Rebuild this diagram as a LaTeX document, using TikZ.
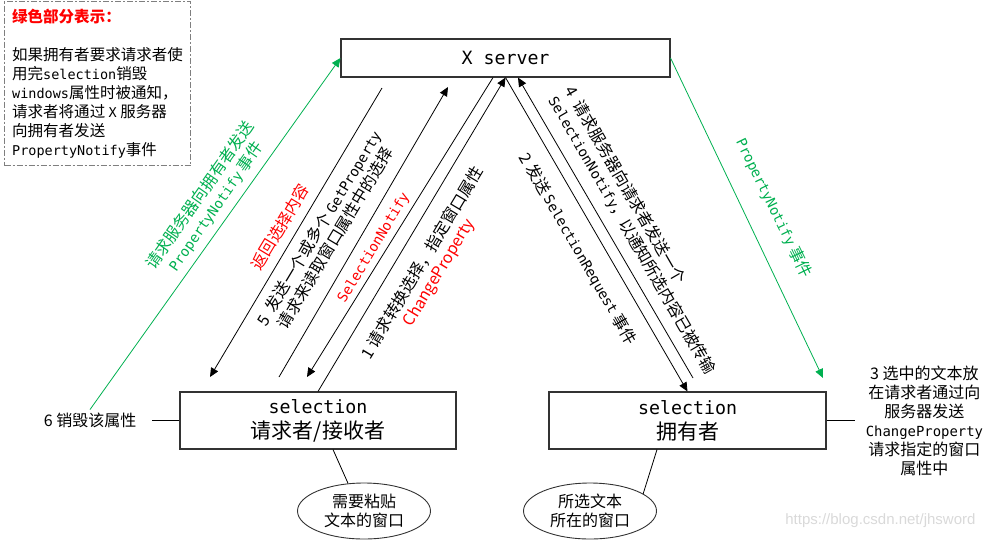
\documentclass[tikz,border=0pt]{standalone}
\usepackage{fontspec}
\setmainfont{Noto Sans CJK SC}
\newfontfamily\asciifont{DejaVu Sans Mono}[Scale=0.87]
\newfontfamily\markfont{Liberation Sans}
\usepackage{xcolor}
\definecolor{evgreen}{HTML}{00B050}
\definecolor{evred}{HTML}{FF0000}
\definecolor{notegray}{HTML}{7F7F7F}
\usepackage{tikz}
\usetikzlibrary{positioning, arrows.meta, shapes.geometric}
\newcommand{\lat}[1]{{\asciifont #1}}
\newcommand{\boxfs}{\fontsize{21pt}{25pt}\selectfont}
\newcommand{\lblfs}{\fontsize{16pt}{19pt}\selectfont}
\newcommand{\notefs}{\fontsize{15.5pt}{19pt}\selectfont}

\begin{document}
\begin{tikzpicture}[x=1pt, y=-1pt,
    box/.style={draw=black!80, line width=1.1pt, minimum height=57pt,
                font=\boxfs, align=center},
    win/.style={draw=black!80, ellipse, line width=0.9pt, minimum width=133pt,
                minimum height=56pt, inner sep=0pt, font=\lblfs, align=center},
    msg/.style={line width=0.8pt, -{Triangle[length=9pt,width=8pt]}},
    evt/.style={msg, evgreen},
    lbl/.style={font=\lblfs, align=center}]
  \useasboundingbox (0,0) rectangle (987,539);

  % note in the corner
  \node[draw=notegray, line width=1pt, dash pattern=on 6pt off 2pt on 2pt off 2pt,
        anchor=north west, minimum width=186pt, minimum height=164pt,
        align=left, inner sep=5pt, font=\notefs] (note) at (4,1)
        {{\color{evred}\bfseries 绿色部分表示：}\\[19pt]
         如果拥有者要求请求者使\\
         用完\lat{selection}销毁\\
         \lat{windows}属性时被通知，\\
         请求者将通过 \lat{X} 服务器\\
         向拥有者发送\\
         \lat{PropertyNotify}事件};

  % server and the two clients
  \node[box, minimum width=329pt, minimum height=38pt] (xs) at (505.5,58) {\lat{X server}};
  \node[box, minimum width=276pt] (req) at (318,420.5) {\lat{selection}\\请求者/接收者};
  \node[box, minimum width=277pt] (own) at (687.5,420.5) {\lat{selection}\\拥有者};

  % windows
  \node[win, below=33pt of req, xshift=46pt] (paste) {需要粘贴\\文本的窗口};
  \node[win, below=33pt of own, xshift=-97.5pt] (src) {所选文本\\所在的窗口};

  % side notes
  \node[lbl, left=27pt of req, inner xsep=16pt] (del) {6 销毁该属性};
  \node[lbl, right=28pt of own, inner xsep=11pt] (put)
        {3 选中的文本放\\在请求者通过向\\服务器发送\\\lat{ChangeProperty}\\请求指定的窗口\\属性中};

  % free ends
  \coordinate (retS) at (382,88);
  \coordinate (retE) at (210,377);
  \coordinate (getS) at (279,377);
  \coordinate (getE) at (448,87);
  \coordinate (ntfE) at (307,377);
  \coordinate (ackS) at (693,378);
  \coordinate (pnE) at (823,378);

  % messages
  \draw[msg] (retS) -- (retE);
  \draw[msg] (getS) -- (getE);
  \draw[msg] ([xshift=-12.5pt]xs.south) -- (ntfE);
  \draw[msg] (req.north) -- (xs.south);
  \draw[msg] (xs.south) -- (own.north);
  \draw[msg] (ackS) -- ([xshift=12.5pt]xs.south);
  \draw[evt] (del.north) -- (xs.west);
  \draw[evt] (xs.east) -- (pnE);

  \draw[line width=0.8pt] (del.east) -- (req.west);
  \draw[line width=0.8pt] (own.east) -- (put.west);
  \draw[line width=0.8pt] ([xshift=15pt]req.south) -- (paste.120);
  \draw[line width=0.8pt] ([xshift=-30.5pt]own.south) -- (src.18);

  % labels on the messages
  \node[lbl, rotate=55, text=evgreen] (askpn) at (208,201)
        {请求服务器向拥有者发送\\\lat{PropertyNotify} 事件};
  \node[lbl, rotate=59, text=evred] (retl) at (280,227) {返回选择内容};
  \node[lbl, rotate=59] (getl) at (327,233)
        {5 \ 发送一个或多个 \lat{GetProperty}\\请求来读取窗口属性中的选择};
  \node[lbl, rotate=59, text=evred] (ntfl) at (374,248) {\lat{SelectionNotify}};
  \node[lbl, rotate=59] (chgl) at (431,268)
        {1 请求转换选择，指定窗口属性\\\textcolor{evred}{ChangeProperty}};
  \node[lbl, rotate=-60] (reql) at (578,249) {2 发送 \lat{SelectionRequest} 事件};
  \node[lbl, rotate=-60, anchor=west, align=left] (ackl) at (559,90)
        {4 \ 请求服务器向请求者发送一个\\\lat{SelectionNotify}，以通知所选内容已被传输};
  \node[lbl, rotate=-64, text=evgreen] (pnl) at (774,208) {\lat{PropertyNotify} 事件};

  \node[font=\markfont\fontsize{15pt}{18pt}\selectfont, text=black!15, anchor=east]
        (mark) at (979,521) {https://blog.csdn.net/jhsword};
\end{tikzpicture}
\end{document}
